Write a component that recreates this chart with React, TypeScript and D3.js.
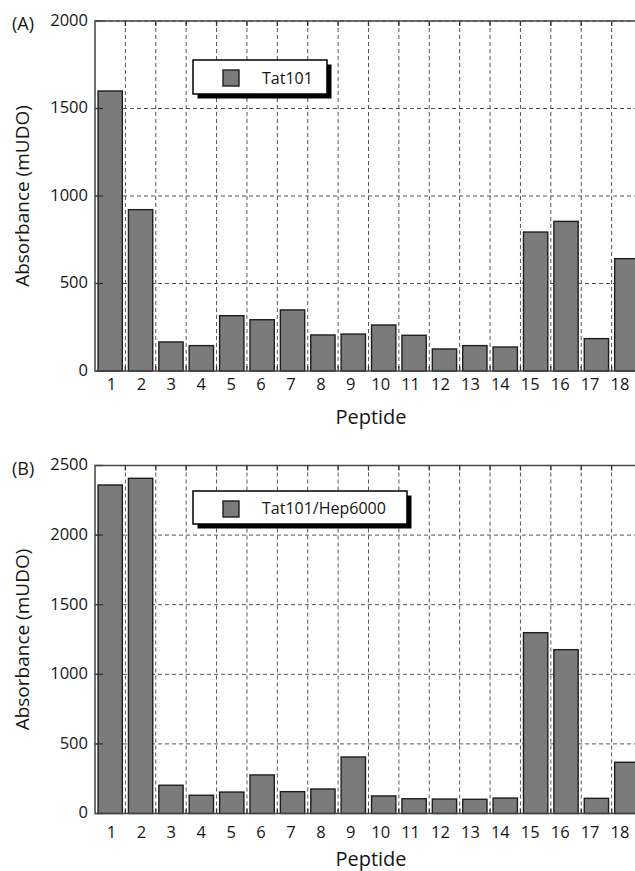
import React from "react";
import * as d3 from "d3";

const peptides = ["1","2","3","4","5","6","7","8","9","10","11","12","13","14","15","16","17","18"];
const tat101 = [1600, 922, 166, 145, 316, 293, 349, 206, 211, 263, 204, 126, 145, 137, 794, 855, 185, 642];
const tat101Hep = [2360, 2408, 203, 131, 154, 277, 157, 176, 406, 126, 106, 104, 102, 111, 1299, 1177, 109, 368];
const ticksA = [0, 500, 1000, 1500, 2000];
const ticksB = [0, 500, 1000, 1500, 2000, 2500];

const FONT = "'Open Sans', 'Noto Sans', sans-serif";
const TEXT = "#161616";
const BAR_FILL = "#7b7b7b";
const GRID = "#555";

type PanelProps = {
  values: number[];
  ticks: number[];
  yMax: number;
  top: number;
  bottom: number;
  letter: string;
  legend: string;
  legendBox: { x: number; y: number; w: number; h: number };
  xLabelY: number;
  titleY: number;
};

function Panel({ values, ticks, yMax, top, bottom, letter, legend, legendBox, xLabelY, titleY }: PanelProps) {
  const left = 95;
  const right = 642;
  const x = d3.scaleBand<string>().domain(peptides).range([left, right]).paddingInner(0.2).paddingOuter(0.1);
  const xLab = d3.scalePoint<string>().domain(peptides).range([111.5, 620]);
  const y = d3.scaleLinear().domain([0, yMax]).range([bottom, top]);
  const step = x.step();
  const boundaries = d3.range(1, peptides.length).map((i) => left + i * step);
  const midY = (top + bottom) / 2;
  return (
    <g>
      {ticks.slice(1).map((t) => (
        <line key={"h" + t} x1={left} x2={right} y1={y(t)} y2={y(t)} stroke={GRID} strokeWidth={1} strokeDasharray="4,3" />
      ))}
      {boundaries.map((bx, i) => (
        <line key={"v" + i} x1={bx} x2={bx} y1={top} y2={bottom} stroke={GRID} strokeWidth={1} strokeDasharray="4,3" />
      ))}
      {values.map((v, i) => (
        <rect
          key={"b" + i}
          x={x(peptides[i])!}
          y={y(v)}
          width={x.bandwidth()}
          height={bottom - y(v)}
          fill={BAR_FILL}
          stroke="#1e1e1e"
          strokeWidth={1.4}
        />
      ))}
      {ticks.map((t) => (
        <line key={"yt" + t} x1={left} x2={left + 8} y1={y(t)} y2={y(t)} stroke="#333" strokeWidth={1.3} />
      ))}
      {boundaries.map((bx, i) => (
        <g key={"xt" + i}>
          <line x1={bx} x2={bx} y1={top} y2={top + 5} stroke="#333" strokeWidth={1.3} />
          <line x1={bx} x2={bx} y1={bottom} y2={bottom - 5} stroke="#333" strokeWidth={1.3} />
        </g>
      ))}
      <rect x={left} y={top} width={right - left} height={bottom - top} fill="none" stroke="#444" strokeWidth={1.5} />
      {ticks.map((t) => (
        <text key={"yl" + t} x={88} y={y(t)} dy="0.3em" textAnchor="end" fontSize={16.5} fontFamily={FONT} fill={TEXT}>
          {t}
        </text>
      ))}
      {peptides.map((p) => (
        <text key={"xl" + p} x={xLab(p)!} y={xLabelY} textAnchor="middle" fontSize={16.5} fontFamily={FONT} fill={TEXT}>
          {p}
        </text>
      ))}
      <text
        transform={`translate(29,${midY}) rotate(-90)`}
        textAnchor="middle"
        fontSize={19}
        fontFamily={FONT}
        fill={TEXT}
      >
        Absorbance (mUDO)
      </text>
      <text x={371} y={titleY} textAnchor="middle" fontSize={20} fontFamily={FONT} fill={TEXT}>
        Peptide
      </text>
      <text x={12} y={top + 9} fontSize={18} fontFamily={FONT} fill={TEXT}>
        {letter}
      </text>
      <rect x={legendBox.x + 4.5} y={legendBox.y + 4.5} width={legendBox.w} height={legendBox.h} fill="#000" />
      <rect x={legendBox.x} y={legendBox.y} width={legendBox.w} height={legendBox.h} fill="#fff" stroke="#000" strokeWidth={1.5} />
      <rect x={legendBox.x + 30} y={legendBox.y + 10} width={16} height={16} fill={BAR_FILL} stroke="#1e1e1e" strokeWidth={1.4} />
      <text x={legendBox.x + 69} y={legendBox.y + legendBox.h / 2 + 1} dy="0.36em" fontSize={16} fontFamily={FONT} fill={TEXT}>
        {legend}
      </text>
    </g>
  );
}

export default function App() {
  return (
    <svg
      width={635}
      height={871}
      viewBox="0 0 635 871"
      style={{ position: "absolute", left: 0, top: 0, background: "#fff", display: "block" }}
    >
      <rect x={0} y={0} width={635} height={871} fill="#fff" />
      <Panel
        values={tat101}
        ticks={ticksA}
        yMax={2000}
        top={21}
        bottom={371}
        letter="(A)"
        legend="Tat101"
        legendBox={{ x: 193, y: 60, w: 134, h: 34 }}
        xLabelY={389.5}
        titleY={423.5}
      />
      <Panel
        values={tat101Hep}
        ticks={ticksB}
        yMax={2500}
        top={465.5}
        bottom={813.5}
        letter="(B)"
        legend="Tat101/Hep6000"
        legendBox={{ x: 193, y: 491, w: 214, h: 33 }}
        xLabelY={837.5}
        titleY={866}
      />
    </svg>
  );
}
